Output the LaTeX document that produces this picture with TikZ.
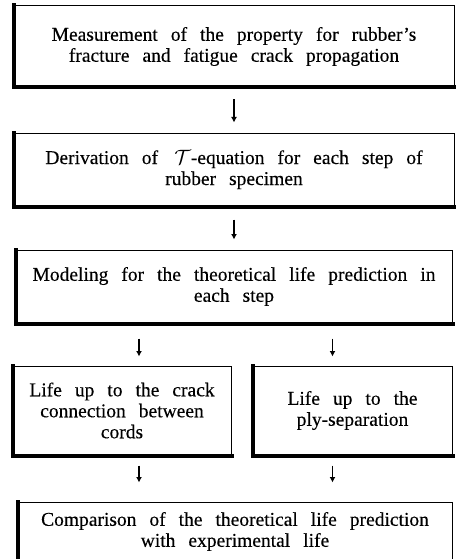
\documentclass[tikz,border=0pt]{standalone}
\usepackage{fontspec}
\setmainfont{Liberation Serif}[FakeBold=0.3]
\usepackage{tikz}
\usetikzlibrary{positioning,arrows.meta}

\begin{document}
\begin{tikzpicture}[
  every node/.style={font={\fontsize{19.5}{21}\selectfont\spaceskip=13pt\relax}},
  box/.style={draw, line width=1pt, align=center, inner sep=2pt},
  heavy/.style={line width=4pt, line cap=rect},
  arr/.style={-{Latex[length=5.5pt,width=6pt]}, line width=1.1pt}]

\useasboundingbox (0,0) rectangle (455pt,-559pt);

\node[box, minimum width=440pt, minimum height=81pt] (meas) at (234pt,-46.5pt)
  {Measurement of the property for rubber's\\fracture and fatigue crack propagation};
\node[box, minimum width=440pt, minimum height=73pt, below=45pt of meas] (deriv)
  {Derivation of \,$\mathcal{T}$-equation for each step of\\rubber specimen};
\node[box, minimum width=436pt, minimum height=73pt, below=43pt of deriv] (model)
  {Modeling for the theoretical life prediction in\\each step};
\node[box, minimum width=218pt, minimum height=89pt, below right=42pt and -3pt of model.south west] (crack)
  {Life up to the crack\\connection between\\cords};
\node[box, minimum width=199pt, minimum height=89pt, below left=42pt and 0pt of model.south east] (ply)
  {Life up to the\\ply-separation};
\node[box, minimum width=434pt, minimum height=59pt, below right=46pt and 5pt of crack.south west] (comp)
  {Comparison of the theoretical life prediction\\with experimental life};

% heavy left and bottom edges
\foreach \n in {meas,deriv,model,crack,ply,comp}
  \draw[heavy] (\n.north west) -- (\n.south west) -- (\n.south east);

\draw[arr, shorten <=12pt, shorten >=10pt] (meas) -- (deriv);
\draw[arr, shorten <=13pt, shorten >=10pt] (deriv) -- (model);
\draw[arr, shorten <=15pt, shorten >=9pt] ([xshift=17pt]crack.north |- model.south) -- ([xshift=17pt]crack.north);
\draw[arr, shorten <=15pt, shorten >=9pt] ([xshift=-20pt]ply.north |- model.south) -- ([xshift=-20pt]ply.north);
\draw[arr, shorten <=10pt, shorten >=19pt] ([xshift=17pt]crack.south) -- ([xshift=17pt]crack.south |- comp.north);
\draw[arr, shorten <=10pt, shorten >=19pt] ([xshift=-20pt]ply.south) -- ([xshift=-20pt]ply.south |- comp.north);
\end{tikzpicture}
\end{document}
